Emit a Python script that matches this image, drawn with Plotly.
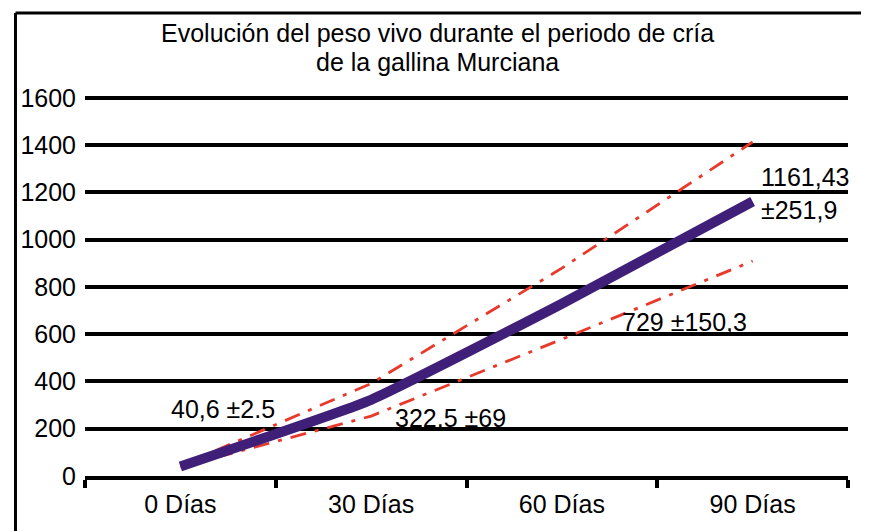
import plotly.graph_objects as go

categories = ["0 Días", "30 Días", "60 Días", "90 Días"]
mean_weight = [40.6, 322.5, 729, 1161.43]
sd_weight = [2.5, 69, 150.3, 251.9]
label_texts = ["40,6 ±2.5", "322,5 ±69", "729 ±150,3", "1161,43<br>±251,9"]
title_lines = ["Evolución del peso vivo durante el periodo de cría", "de la gallina Murciana"]
y_ticks = [0, 200, 400, 600, 800, 1000, 1200, 1400, 1600]

upper = [m + s for m, s in zip(mean_weight, sd_weight)]
lower = [m - s for m, s in zip(mean_weight, sd_weight)]

FONT = "Liberation Sans, Arial, sans-serif"
RED = "#e8392b"
PURPLE = "#3f1f78"
DASH = "16px,9px,4px,9px"

fig = go.Figure()
fig.add_trace(go.Scatter(x=categories, y=upper, mode="lines",
                         line=dict(color=RED, width=2.8, dash=DASH),
                         hoverinfo="skip", showlegend=False))
fig.add_trace(go.Scatter(x=categories, y=lower, mode="lines",
                         line=dict(color=RED, width=2.8, dash=DASH),
                         hoverinfo="skip", showlegend=False))
fig.add_trace(go.Scatter(x=categories, y=mean_weight, mode="lines",
                         line=dict(color=PURPLE, width=10, shape="spline", smoothing=0.4),
                         showlegend=False))

offsets = [(43, 57, "center"), (79, -18, "center"), (123, -18, "center"), (6, 8, "left")]
for c, m, t, (dx, dy, xa) in zip(categories, mean_weight, label_texts, offsets):
    fig.add_annotation(x=c, y=m, text=t, showarrow=False, xshift=dx, yshift=dy,
                       xanchor=xa, align="left",
                       font=dict(family=FONT, size=25, color="black"))

for t, yp in zip(title_lines, [1.163, 1.087]):
    fig.add_annotation(x=0.462, y=yp, xref="paper", yref="paper", text=t,
                       showarrow=False, xanchor="center", yanchor="middle",
                       font=dict(family=FONT, size=25, color="black"))

# frame lines (left and top)
fig.add_shape(type="line", xref="paper", yref="paper", x0=-0.0911, x1=-0.0911,
              y0=1.215, y1=-0.3, line=dict(color="black", width=3))
fig.add_shape(type="line", xref="paper", yref="paper", x0=-0.0911, x1=1.1,
              y0=1.215, y1=1.215, line=dict(color="black", width=3))

fig.update_layout(
    width=869, height=531,
    margin=dict(l=72, r=29, t=87, b=63),
    paper_bgcolor="white", plot_bgcolor="white",
    font=dict(family=FONT, size=25, color="black"),
    xaxis=dict(type="category", categoryorder="array", categoryarray=categories,
               range=[-0.5, 3.5], showgrid=False, showline=True, linecolor="black",
               linewidth=4, ticks="outside", tickson="boundaries", ticklen=8,
               tickwidth=4, tickcolor="black", zeroline=False,
               ticklabelstandoff=3, tickfont=dict(family=FONT, size=25)),
    yaxis=dict(range=[0, 1612], tickvals=y_ticks, showgrid=True, gridcolor="black",
               gridwidth=4, zeroline=False, showline=False, ticks="",
               ticklabelstandoff=8, tickfont=dict(family=FONT, size=25)),
)

fig.write_html("out.html")
